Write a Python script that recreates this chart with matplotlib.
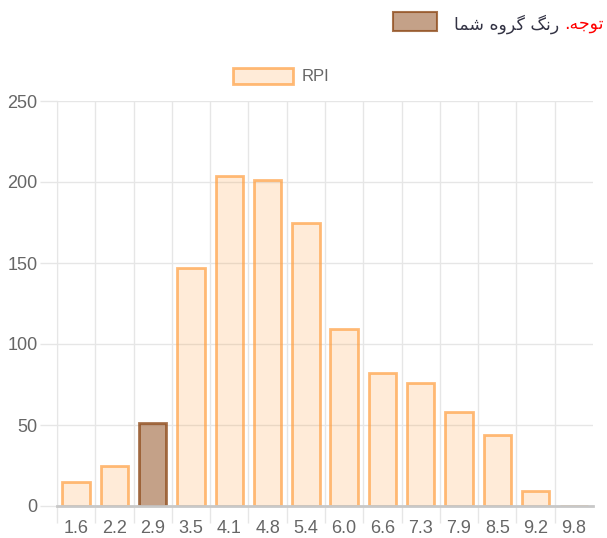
import matplotlib.pyplot as plt
from matplotlib.patches import Rectangle
import numpy as np

plt.rcParams['font.family'] = ['Liberation Sans', 'DejaVu Sans']

# داده ها
rpi = ['1.6', '2.2', '2.9', '3.5', '4.1', '4.8', '5.4', '6.0', '6.6', '7.3', '7.9', '8.5', '9.2', '9.8']
tedad = [15, 25, 51, 147, 204, 201, 175, 109, 82, 76, 58, 44, 9, 0]
goroh_ma = '2.9'  # ستون گروه شما

narenji = (1.0, 159/255, 64/255)
gray_txt = '#666666'
grid_c = '#e6e6e6'

rang_bar = [(*narenji, 0.2) for r in rpi]
rang_khat = [(*narenji, 0.7) for r in rpi]
i_g = rpi.index(goroh_ma)
rang_bar[i_g] = (139/255, 69/255, 19/255, 0.5)
rang_khat[i_g] = (139/255, 69/255, 19/255, 0.75)

fig = plt.figure(figsize=(6.07, 5.38), dpi=100)
ax = fig.add_axes([57/607, 1 - 506/538, 536/607, 405/538])

x = np.arange(len(rpi))
bars = ax.bar(x, tedad, width=0.72, color=rang_bar, edgecolor=rang_khat, linewidth=2, zorder=3)

ax.set_xlim(-0.5, len(rpi) - 0.5)
ax.set_ylim(0, 250)
ax.set_yticks(np.arange(0, 251, 50))
ax.set_xticks(x)
ax.set_xticklabels(rpi)
ax.set_xticks(np.arange(-0.5, len(rpi) - 1, 1), minor=True)

ax.tick_params(axis='x', which='major', length=0, pad=10, labelsize=13, labelcolor=gray_txt)
ax.tick_params(axis='x', which='minor', length=12, color=grid_c, width=1)
ax.tick_params(axis='y', length=12, color=grid_c, width=1, pad=2, labelsize=13, labelcolor=gray_txt)

ax.grid(True, axis='x', which='minor', color=grid_c, lw=1, zorder=0)
ax.grid(True, axis='y', which='major', color=grid_c, lw=1, zorder=0)

for s in ['top', 'right']:
    ax.spines[s].set_visible(False)
ax.spines['left'].set_color(grid_c)
ax.spines['bottom'].set_color('#c8c8c8')
ax.spines['bottom'].set_linewidth(2)
ax.spines['bottom'].set_zorder(4)

leg = ax.legend([bars], ['RPI'], loc='center', bbox_to_anchor=(281/607, 1 - 76/538),
                bbox_transform=fig.transFigure, frameon=False, fontsize=12,
                handlelength=3.6, handleheight=1.1, handletextpad=0.5, labelcolor=gray_txt)

# متن بالا: «توجه. رنگ گروه شما» (حروف شکل دار و به ترتیب نمایش)
matn_ghermez = '.\ufeea\ufe9f\ufeee\ufe97'
matn_tire = '\ufe8e\ufee4\ufeb7 \ufee9\ufeed\ufeae\ufb94 \ufb93\ufee7\ufead '
t1 = fig.text(604/607, 1 - 24/538, matn_ghermez, ha='right', va='center',
              color='red', fontsize=12.5, family='DejaVu Sans')
fig.canvas.draw()
ext = t1.get_window_extent()
t2 = fig.text(ext.x0 / 607, 1 - 24/538, matn_tire, ha='right', va='center',
              color='#333344', fontsize=12.5, family='DejaVu Sans')
fig.canvas.draw()
ext2 = t2.get_window_extent()
fig.patches.append(Rectangle(((ext2.x0 - 61) / 607, 1 - 31/538), 44/607, 19/538,
                             transform=fig.transFigure,
                             facecolor=(139/255, 69/255, 19/255, 0.5),
                             edgecolor=(139/255, 69/255, 19/255, 0.75), lw=1.5))

fig.savefig('out.png', dpi=100)
